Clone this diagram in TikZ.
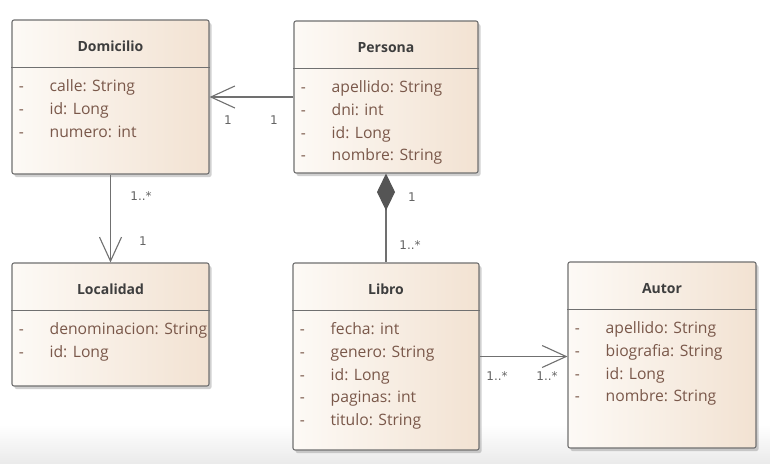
\documentclass[tikz,border=0pt]{standalone}
\usepackage{fontspec}
\setmainfont{Open Sans}
\newfontfamily\multfont{DejaVu Sans}
\usetikzlibrary{arrows.meta,shadows,calc}
\definecolor{boxL}{RGB}{253,250,246}
\definecolor{boxR}{RGB}{242,226,210}
\definecolor{edgec}{RGB}{112,112,112}
\definecolor{attrc}{RGB}{122,88,74}
\definecolor{ttlc}{RGB}{62,62,62}
\definecolor{multc}{RGB}{100,100,100}
\definecolor{diac}{RGB}{85,85,85}

\newcommand\umlclass[6]{%
  \node[classbox, minimum width=#3, minimum height=#4] (#1) at #2 {};
  \draw[sepline] ($(#1.north west)+(0,48)$) -- ($(#1.north east)+(0,48)$);
  \node[titletext] (#1-t) at ($(#1.north)+(0,27)$) {#5};
  \foreach \t [count=\i] in {#6} {
    \node[dashtext] (#1-d\i) at ($(#1.north west)+(10,{72+22.8*(\i-1)})$) {-};
    \node[attrtext] (#1-a\i) at ($(#1.north west)+(38,{72+22.8*(\i-1)})$) {\t};
  }%
}

\begin{document}
\begin{tikzpicture}[x=1pt,y=-1pt,
  classbox/.style={draw=edgec, line width=1.1pt, rounded corners=2pt,
    left color=boxL, right color=boxR, inner sep=0pt,
    drop shadow={shadow xshift=2.5pt, shadow yshift=-3pt, opacity=0.3, fill=black!60}},
  sepline/.style={draw=edgec, line width=1.1pt},
  titletext/.style={font=\fontsize{14}{16}\selectfont\bfseries, text=ttlc, inner sep=0pt},
  dashtext/.style={font=\fontsize{15.5}{18}\selectfont, text=attrc, anchor=base, inner sep=0pt},
  attrtext/.style={font=\fontsize{15.7}{18}\selectfont, text=attrc, anchor=base west, inner sep=0pt},
  multtext/.style={font=\multfont\fontsize{12}{14}\selectfont, text=multc, inner sep=0pt},
  assocline/.style={draw=edgec, line width=1.1pt},
  openarrow/.style={-{Straight Barb[length=24pt,width=22pt]}},
]
\fill[white] (0,0) rectangle (770,463);
\fill[top color=white, bottom color=black!8] (0,425) rectangle (770,463);
\useasboundingbox (0,0) rectangle (770,463);

\umlclass{dom}{(110.5,97)}{197pt}{154pt}{Domicilio}{calle: String, id: Long, numero: int}
\umlclass{per}{(386,97)}{184pt}{152pt}{Persona}{apellido: String, dni: int, id: Long, nombre: String}
\umlclass{loc}{(110.5,324.5)}{197pt}{123pt}{Localidad}{denominacion: String, id: Long}
\umlclass{lib}{(386,356.5)}{186pt}{187pt}{Libro}{fecha: int, genero: String, id: Long, paginas: int, titulo: String}
\umlclass{aut}{(662,355)}{188pt}{186pt}{Autor}{apellido: String, biografia: String, id: Long, nombre: String}

\draw[assocline, openarrow] (per.west) -- (dom.east);
\draw[assocline, openarrow] (dom.south) -- (loc.north);
\draw[assocline, {Diamond[length=37pt,width=18pt,fill=diac,color=diac]}-] (per.south) -- (lib.north);
\draw[assocline, openarrow] (lib.east) -- (lib.east -| aut.west);

\node[multtext] (m1) at (228,120) {1};
\node[multtext] (m2) at (274,120) {1};
\node[multtext] (m3) at (141,196) {1..*};
\node[multtext] (m4) at (143,241) {1};
\node[multtext] (m5) at (412,197) {1};
\node[multtext] (m6) at (410,245) {1..*};
\node[multtext] (m7) at (497,376) {1..*};
\node[multtext] (m8) at (547,376) {1..*};
\end{tikzpicture}
\end{document}
